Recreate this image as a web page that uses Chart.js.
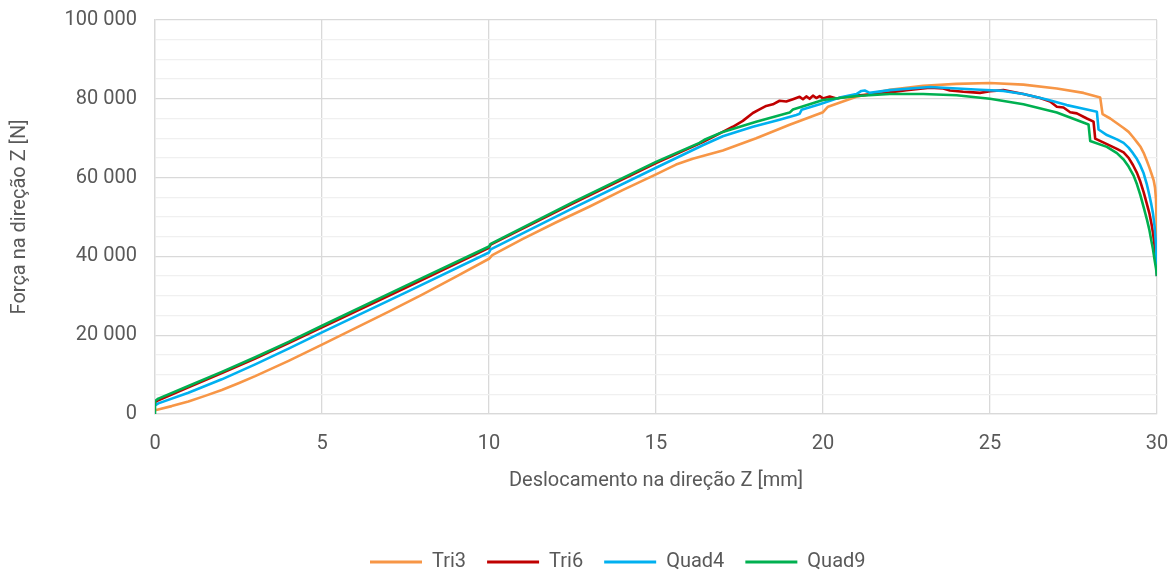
<!DOCTYPE html>
<html>
<head>
<meta charset="utf-8">
<script src="https://cdn.jsdelivr.net/npm/chart.js@4/dist/chart.umd.min.js"></script>
<style>
  html, body { margin: 0; padding: 0; background: #fff; }
  #wrap { width: 1176px; height: 571px; position: relative; }
</style>
</head>
<body>
<div id="wrap"><canvas id="grafiek"></canvas></div>
<script>
// Força vs deslocamento para os quatro tipos de elemento
const tri3X = [0, 0.5, 1, 1.5, 2, 2.5, 3, 4, 5, 6, 7, 8, 9, 10, 10.1, 11, 12, 13, 14, 15, 15.6, 16.1, 17, 18, 19, 20, 20.15, 21, 22, 23, 24, 25, 26, 27, 27.8, 28.3, 28.37, 28.6, 28.8, 29.0, 29.15, 29.28, 29.4, 29.5, 29.6, 29.69, 29.77, 29.85, 29.9, 29.94, 29.97, 29.99, 30];
const tri3Y = [950, 2000, 3200, 4600, 6100, 7800, 9600, 13500, 17600, 21800, 26000, 30300, 34800, 39400, 40300, 44400, 48600, 52600, 56800, 60800, 63300, 64800, 66900, 70000, 73400, 76600, 78000, 80500, 82300, 83300, 83800, 84000, 83600, 82600, 81500, 80300, 76100, 75000, 73800, 72600, 71600, 70300, 69000, 67900, 66300, 64400, 62600, 60600, 59300, 57500, 54500, 48000, 35000];

const tri6X = [0, 0.1, 1, 2, 3, 4, 5, 7.5, 10, 10.05, 12.5, 15, 16.4, 17, 17.3, 17.6, 17.9, 18.1, 18.3, 18.5, 18.7, 18.9, 19.1, 19.3, 19.4, 19.5, 19.6, 19.7, 19.8, 19.9, 20.0, 20.2, 20.4, 20.6, 21, 21.7, 22.5, 23.2, 23.6, 23.8, 24.2, 24.4, 24.7, 25.0, 25.4, 26.0, 26.5, 26.8, 27.0, 27.2, 27.4, 27.6, 27.9, 28.1, 28.15, 28.5, 28.8, 29.0, 29.15, 29.28, 29.4, 29.5, 29.6, 29.69, 29.77, 29.83, 29.88, 29.93, 29.97, 30];
const tri6Y = [3000, 3500, 6800, 10400, 14100, 18000, 22000, 32000, 42200, 43000, 53400, 63700, 69000, 71600, 72900, 74400, 76400, 77300, 78200, 78600, 79500, 79300, 79900, 80500, 79900, 80600, 80000, 80800, 80200, 80700, 80100, 80600, 80100, 80400, 80800, 81300, 82200, 82800, 82600, 82100, 81800, 81700, 81500, 81900, 82200, 81200, 80200, 79300, 78000, 77800, 76600, 76300, 75000, 74200, 69900, 68500, 67300, 66400, 65000, 63200, 61200, 59000, 56300, 53500, 51000, 48500, 46000, 42500, 39500, 35000];

const quad4X = [0, 0.1, 1, 2, 3, 4, 5, 7.5, 10, 10.05, 12.5, 15, 16.4, 17, 17.9, 18.7, 19.2, 19.3, 19.36, 19.9, 20.5, 21.0, 21.15, 21.25, 21.4, 22, 23.2, 24.7, 25.4, 26, 26.7, 27.3, 27.8, 28.2, 28.25, 28.5, 28.8, 29.0, 29.15, 29.28, 29.4, 29.5, 29.6, 29.69, 29.77, 29.83, 29.88, 29.93, 29.97, 30];
const quad4Y = [2200, 2700, 5400, 8800, 12600, 16600, 20700, 30800, 41000, 41800, 52200, 62500, 68200, 70500, 72900, 74700, 75900, 76200, 77200, 78600, 80300, 81200, 82000, 82100, 81500, 82200, 83000, 82300, 82000, 81200, 79800, 78400, 77500, 76700, 72200, 70800, 69700, 68800, 67600, 66200, 64700, 63100, 61100, 58500, 55600, 53200, 50900, 47500, 43000, 35000];

const quad9X = [0, 0, 0.1, 1, 2, 3, 4, 5, 7.5, 10, 10.05, 12.5, 15, 16.3, 16.45, 17, 18, 19.0, 19.1, 20, 21, 22, 23, 24, 25, 26, 27, 27.95, 28.0, 28.5, 28.8, 29.0, 29.15, 29.3, 29.4, 29.5, 29.6, 29.7, 29.77, 29.83, 29.88, 29.93, 29.97, 30];
const quad9Y = [0, 3300, 3900, 7100, 10700, 14400, 18300, 22400, 32500, 42500, 43200, 53700, 64000, 68800, 69600, 71600, 74200, 76500, 77300, 79700, 80700, 81200, 81200, 80900, 80000, 78600, 76500, 73500, 69300, 67800, 66200, 64600, 62800, 60500, 58300, 55600, 52500, 49300, 46800, 44000, 41800, 39000, 37000, 35000];

const reeksNamen = ['Tri3', 'Tri6', 'Quad4', 'Quad9'];
const kleuren = ['#F79646', '#C00000', '#00B0F0', '#00B050'];

const tekstKleur = '#595959';
const lettertype = 'Roboto';

function punten(xs, ys) {
    return xs.map((x, i) => ({ x: x, y: ys[i] }));
}

const reeksen = [[tri3X, tri3Y], [tri6X, tri6Y], [quad4X, quad4Y], [quad9X, quad9Y]];

const datasets = reeksen.map((r, i) => ({
    label: reeksNamen[i],
    data: punten(r[0], r[1]),
    borderColor: kleuren[i],
    backgroundColor: kleuren[i],
    borderWidth: 2.6,
    borderJoinStyle: 'round',
    pointRadius: 0,
    tension: 0,
    order: reeksen.length - i   // laatste reeks bovenop tekenen
}));

// legenda iets naar rechts schuiven
const legendaPositie = {
    id: 'legendaPositie',
    afterLayout(chart) {
        const lg = chart.legend;
        const w = lg.right - lg.left;
        lg.left = 349;
        lg.right = lg.left + w;
    }
};

new Chart(document.getElementById('grafiek'), {
    type: 'line',
    data: { datasets: datasets },
    plugins: [legendaPositie],
    options: {
        responsive: true,
        maintainAspectRatio: false,
        animation: false,
        devicePixelRatio: 1,
        layout: { padding: { left: 0, right: 19, top: 20, bottom: -11 } },
        scales: {
            x: {
                type: 'linear',
                min: 0,
                max: 30,
                afterFit: s => { s.height = 117; s.paddingLeft = 0; s.paddingRight = 0; },
                ticks: {
                    stepSize: 5,
                    padding: 18,
                    color: tekstKleur,
                    font: { family: lettertype, size: 20 }
                },
                grid: { color: '#D9D9D9', lineWidth: 1.3, drawTicks: false },
                border: { color: '#D9D9D9', width: 1.3 },
                title: {
                    display: true,
                    text: 'Deslocamento na direção Z [mm]',
                    color: tekstKleur,
                    font: { family: lettertype, size: 20 },
                    padding: { top: 0, bottom: 38 }
                }
            },
            y: {
                min: 0,
                max: 100000,
                afterFit: s => { s.width = 155; s.paddingTop = 0; s.paddingBottom = 0; },
                afterBuildTicks: s => {
                    const t = [];
                    for (let v = 0; v <= 100000; v += 5000) t.push({ value: v });
                    s.ticks = t;
                },
                ticks: {
                    autoSkip: false,
                    padding: 18,
                    color: tekstKleur,
                    font: { family: lettertype, size: 20 },
                    callback: v => v % 20000 === 0 ? (v === 0 ? '0' : (v / 1000) + ' 000') : ''
                },
                grid: {
                    drawTicks: false,
                    color: c => c.tick.value % 20000 === 0 ? '#D9D9D9' : '#F0F0F0',
                    lineWidth: 1.3
                },
                border: { color: '#D9D9D9', width: 1.3 },
                title: {
                    display: true,
                    text: 'Força na direção Z [N]',
                    color: tekstKleur,
                    font: { family: lettertype, size: 20 },
                    padding: { top: 8, bottom: 0 }
                }
            }
        },
        plugins: {
            legend: {
                position: 'bottom',
                align: 'start',
                labels: {
                    boxWidth: 52,
                    boxHeight: 3,
                    padding: 21,
                    color: tekstKleur,
                    font: { family: lettertype, size: 20 },
                    sort: (a, b) => a.datasetIndex - b.datasetIndex,
                    generateLabels: chart => {
                        const items = Chart.defaults.plugins.legend.labels.generateLabels(chart);
                        items.forEach(it => { it.lineWidth = 0; });
                        return items;
                    }
                }
            },
            tooltip: { enabled: false }
        }
    }
});
</script>
</body>
</html>
